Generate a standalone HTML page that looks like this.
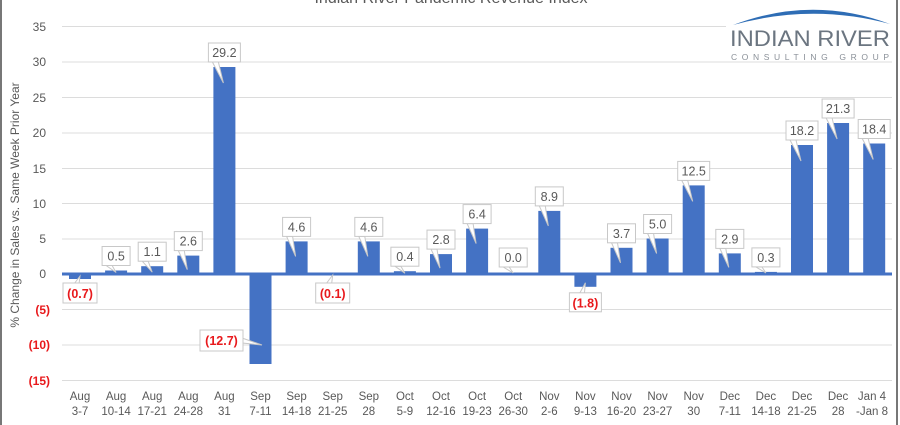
<!DOCTYPE html>
<html><head><meta charset="utf-8"><style>
html,body{margin:0;padding:0;background:#fff;}
svg{display:block;font-family:"Liberation Sans",sans-serif;}
.t{font-size:12.5px;fill:#595959;text-anchor:middle;}
.r{font-size:12.5px;fill:#e8191c;text-anchor:middle;font-weight:bold;}
.ax{font-size:12px;fill:#595959;text-anchor:end;}
.axr{font-size:12px;fill:#e8191c;text-anchor:end;font-weight:bold;}
.c{font-size:11.5px;fill:#595959;text-anchor:middle;}
.b{fill:#4472c4;}
.bx{fill:#fff;stroke:#c8c8c8;stroke-width:1;}
</style></head><body>
<svg width="900" height="425" viewBox="0 0 900 425" xmlns="http://www.w3.org/2000/svg">
<rect x="0" y="0" width="900" height="425" fill="#fff"/>
<rect x="0" y="0" width="2" height="425" fill="#777"/>
<rect x="896" y="0" width="2" height="425" fill="#777"/>
<!-- grid -->
<g stroke="#dcdcdc" stroke-width="1">
<line x1="62" x2="892" y1="26.5" y2="26.5"/>
<line x1="62" x2="892" y1="62" y2="62"/>
<line x1="62" x2="892" y1="97.5" y2="97.5"/>
<line x1="62" x2="892" y1="133" y2="133"/>
<line x1="62" x2="892" y1="168.5" y2="168.5"/>
<line x1="62" x2="892" y1="203.5" y2="203.5"/>
<line x1="62" x2="892" y1="239" y2="239"/>
<line x1="62" x2="892" y1="309.5" y2="309.5"/>
<line x1="62" x2="892" y1="345" y2="345"/>
<line x1="62" x2="892" y1="380.5" y2="380.5"/>
</g>
<!-- title -->
<text x="451" y="3" font-size="16" fill="#595959" text-anchor="middle">Indian River Pandemic Revenue Index</text>
<!-- logo -->
<rect x="726" y="0" width="168" height="60" fill="#fff"/>
<path d="M733 25 Q812 -5 890 24 Q812 3 733 25 Z" fill="#2e6db5"/>
<text x="810" y="46" font-size="22" fill="#6b7580" text-anchor="middle" textLength="160" lengthAdjust="spacingAndGlyphs">INDIAN RIVER</text>
<text x="810" y="60" font-size="8.5" fill="#8a9098" text-anchor="middle" textLength="158" lengthAdjust="spacing">CONSULTING GROUP</text>
<!-- y axis labels -->
<text class="ax" x="46" y="31">35</text>
<text class="ax" x="46" y="66">30</text>
<text class="ax" x="46" y="102">25</text>
<text class="ax" x="46" y="137">20</text>
<text class="ax" x="46" y="173">15</text>
<text class="ax" x="46" y="208">10</text>
<text class="ax" x="46" y="243">5</text>
<text class="ax" x="46" y="278">0</text>
<text class="axr" x="50" y="314">(5)</text>
<text class="axr" x="50" y="349">(10)</text>
<text class="axr" x="50" y="385">(15)</text>
<text x="0" y="0" font-size="12" fill="#595959" text-anchor="middle" transform="translate(19,205) rotate(-90)">% Change in Sales vs. Same Week Prior Year</text>
<!-- bars -->
<rect class="b" x="69" y="274" width="22" height="5"/>
<rect class="b" x="105.1" y="270.5" width="22" height="3.5"/>
<rect class="b" x="141.2" y="266.2" width="22" height="7.8"/>
<rect class="b" x="177.3" y="255.6" width="22" height="18.4"/>
<rect class="b" x="213.4" y="67" width="22" height="207"/>
<rect class="b" x="249.5" y="274" width="22" height="90"/>
<rect class="b" x="285.6" y="241.4" width="22" height="32.6"/>
<rect class="b" x="321.7" y="274" width="22" height="1"/>
<rect class="b" x="357.8" y="241.4" width="22" height="32.6"/>
<rect class="b" x="393.9" y="271.2" width="22" height="2.8"/>
<rect class="b" x="430" y="254.1" width="22" height="19.9"/>
<rect class="b" x="466.1" y="228.6" width="22" height="45.4"/>
<rect class="b" x="538.3" y="210.9" width="22" height="63.1"/>
<rect class="b" x="574.4" y="274" width="22" height="12.8"/>
<rect class="b" x="610.5" y="247.8" width="22" height="26.2"/>
<rect class="b" x="646.6" y="238.5" width="22" height="35.5"/>
<rect class="b" x="682.7" y="185.4" width="22" height="88.6"/>
<rect class="b" x="718.8" y="253.4" width="22" height="20.6"/>
<rect class="b" x="754.9" y="271.9" width="22" height="2.1"/>
<rect class="b" x="791" y="145" width="22" height="129"/>
<rect class="b" x="827.1" y="123" width="22" height="151"/>
<rect class="b" x="863.2" y="143.5" width="22" height="130.5"/>
<rect class="b" x="62" y="272.5" width="830" height="3"/>
<!-- positive labels -->
<g transform="translate(116.1,270.5)"><polygon class="bx" points="-10,-5 0,2 -4,-5"/><rect class="bx" x="-14" y="-24" width="28" height="19"/><text class="t" x="0" y="-10">0.5</text></g>
<g transform="translate(152.2,266.2)"><polygon class="bx" points="-10,-5 0,6 -4,-5"/><rect class="bx" x="-14" y="-24" width="28" height="19"/><text class="t" x="0" y="-10">1.1</text></g>
<g transform="translate(188.3,255.6)"><polygon class="bx" points="-10,-5 -1,14 -4,-5"/><rect class="bx" x="-14" y="-24" width="28" height="19"/><text class="t" x="0" y="-10">2.6</text></g>
<g transform="translate(224.4,67)"><polygon class="bx" points="-12,-5 -1,16 -6,-5"/><rect class="bx" x="-16" y="-24" width="32" height="19"/><text class="t" x="0" y="-10">29.2</text></g>
<g transform="translate(296.6,241.4)"><polygon class="bx" points="-10,-5 -1,15 -4,-5"/><rect class="bx" x="-14" y="-24" width="28" height="19"/><text class="t" x="0" y="-10">4.6</text></g>
<g transform="translate(368.8,241.4)"><polygon class="bx" points="-10,-5 -1,15 -4,-5"/><rect class="bx" x="-14" y="-24" width="28" height="19"/><text class="t" x="0" y="-10">4.6</text></g>
<g transform="translate(404.9,271.2)"><polygon class="bx" points="-10,-5 0,2 -4,-5"/><rect class="bx" x="-14" y="-24" width="28" height="19"/><text class="t" x="0" y="-10">0.4</text></g>
<g transform="translate(441,254.1)"><polygon class="bx" points="-10,-5 -1,14 -4,-5"/><rect class="bx" x="-14" y="-24" width="28" height="19"/><text class="t" x="0" y="-10">2.8</text></g>
<g transform="translate(477.1,228.6)"><polygon class="bx" points="-10,-5 -1,15 -4,-5"/><rect class="bx" x="-14" y="-24" width="28" height="19"/><text class="t" x="0" y="-10">6.4</text></g>
<g transform="translate(513.2,272)"><polygon class="bx" points="-10,-5 0,1 -4,-5"/><rect class="bx" x="-14" y="-24" width="28" height="19"/><text class="t" x="0" y="-10">0.0</text></g>
<g transform="translate(549.3,210.9)"><polygon class="bx" points="-10,-5 -1,15 -4,-5"/><rect class="bx" x="-14" y="-24" width="28" height="19"/><text class="t" x="0" y="-10">8.9</text></g>
<g transform="translate(621.5,247.8)"><polygon class="bx" points="-10,-5 -1,15 -4,-5"/><rect class="bx" x="-14" y="-24" width="28" height="19"/><text class="t" x="0" y="-10">3.7</text></g>
<g transform="translate(657.6,238.5)"><polygon class="bx" points="-10,-5 -1,15 -4,-5"/><rect class="bx" x="-14" y="-24" width="28" height="19"/><text class="t" x="0" y="-10">5.0</text></g>
<g transform="translate(693.7,185.4)"><polygon class="bx" points="-12,-5 -1,16 -6,-5"/><rect class="bx" x="-16" y="-24" width="32" height="19"/><text class="t" x="0" y="-10">12.5</text></g>
<g transform="translate(729.8,253.4)"><polygon class="bx" points="-10,-5 -1,14 -4,-5"/><rect class="bx" x="-14" y="-24" width="28" height="19"/><text class="t" x="0" y="-10">2.9</text></g>
<g transform="translate(765.9,271.9)"><polygon class="bx" points="-10,-5 0,1 -4,-5"/><rect class="bx" x="-14" y="-24" width="28" height="19"/><text class="t" x="0" y="-10">0.3</text></g>
<g transform="translate(802,145)"><polygon class="bx" points="-12,-5 -1,16 -6,-5"/><rect class="bx" x="-16" y="-24" width="32" height="19"/><text class="t" x="0" y="-10">18.2</text></g>
<g transform="translate(838.1,123)"><polygon class="bx" points="-12,-5 -1,16 -6,-5"/><rect class="bx" x="-16" y="-24" width="32" height="19"/><text class="t" x="0" y="-10">21.3</text></g>
<g transform="translate(874.2,143.5)"><polygon class="bx" points="-12,-5 -1,16 -6,-5"/><rect class="bx" x="-16" y="-24" width="32" height="19"/><text class="t" x="0" y="-10">18.4</text></g>
<!-- negative labels -->
<g transform="translate(80,279)"><polygon class="bx" points="-6,5 0,-3 -1,5"/><rect class="bx" x="-17" y="4" width="34" height="20"/><text class="r" x="0" y="19">(0.7)</text></g>
<g transform="translate(332.7,277)"><polygon class="bx" points="-6,6 0,-2 -1,6"/><rect class="bx" x="-17" y="6" width="34" height="20"/><text class="r" x="0" y="21">(0.1)</text></g>
<g transform="translate(585.4,286.8)"><polygon class="bx" points="-6,7 0,-4 -1,7"/><rect class="bx" x="-16" y="6" width="32" height="19"/><text class="r" x="0" y="20.5">(1.8)</text></g>
<g><polygon class="bx" points="242,338 262,345 242,343"/><rect class="bx" x="200" y="330" width="43" height="21"/><text class="r" x="221.5" y="345">(12.7)</text></g>
<!-- category labels -->
<g class="c">
<text class="c" x="80" y="400">Aug<tspan x="80" dy="15">3-7</tspan></text>
<text class="c" x="116.1" y="400">Aug<tspan x="116.1" dy="15">10-14</tspan></text>
<text class="c" x="152.2" y="400">Aug<tspan x="152.2" dy="15">17-21</tspan></text>
<text class="c" x="188.3" y="400">Aug<tspan x="188.3" dy="15">24-28</tspan></text>
<text class="c" x="224.4" y="400">Aug<tspan x="224.4" dy="15">31</tspan></text>
<text class="c" x="260.5" y="400">Sep<tspan x="260.5" dy="15">7-11</tspan></text>
<text class="c" x="296.6" y="400">Sep<tspan x="296.6" dy="15">14-18</tspan></text>
<text class="c" x="332.7" y="400">Sep<tspan x="332.7" dy="15">21-25</tspan></text>
<text class="c" x="368.8" y="400">Sep<tspan x="368.8" dy="15">28</tspan></text>
<text class="c" x="404.9" y="400">Oct<tspan x="404.9" dy="15">5-9</tspan></text>
<text class="c" x="441" y="400">Oct<tspan x="441" dy="15">12-16</tspan></text>
<text class="c" x="477.1" y="400">Oct<tspan x="477.1" dy="15">19-23</tspan></text>
<text class="c" x="513.2" y="400">Oct<tspan x="513.2" dy="15">26-30</tspan></text>
<text class="c" x="549.3" y="400">Nov<tspan x="549.3" dy="15">2-6</tspan></text>
<text class="c" x="585.4" y="400">Nov<tspan x="585.4" dy="15">9-13</tspan></text>
<text class="c" x="621.5" y="400">Nov<tspan x="621.5" dy="15">16-20</tspan></text>
<text class="c" x="657.6" y="400">Nov<tspan x="657.6" dy="15">23-27</tspan></text>
<text class="c" x="693.7" y="400">Nov<tspan x="693.7" dy="15">30</tspan></text>
<text class="c" x="729.8" y="400">Dec<tspan x="729.8" dy="15">7-11</tspan></text>
<text class="c" x="765.9" y="400">Dec<tspan x="765.9" dy="15">14-18</tspan></text>
<text class="c" x="802" y="400">Dec<tspan x="802" dy="15">21-25</tspan></text>
<text class="c" x="838.1" y="400">Dec<tspan x="838.1" dy="15">28</tspan></text>
<text class="c" x="872" y="400">Jan 4<tspan x="872" dy="15">-Jan 8</tspan></text>
</g>
</svg>
</body></html>
